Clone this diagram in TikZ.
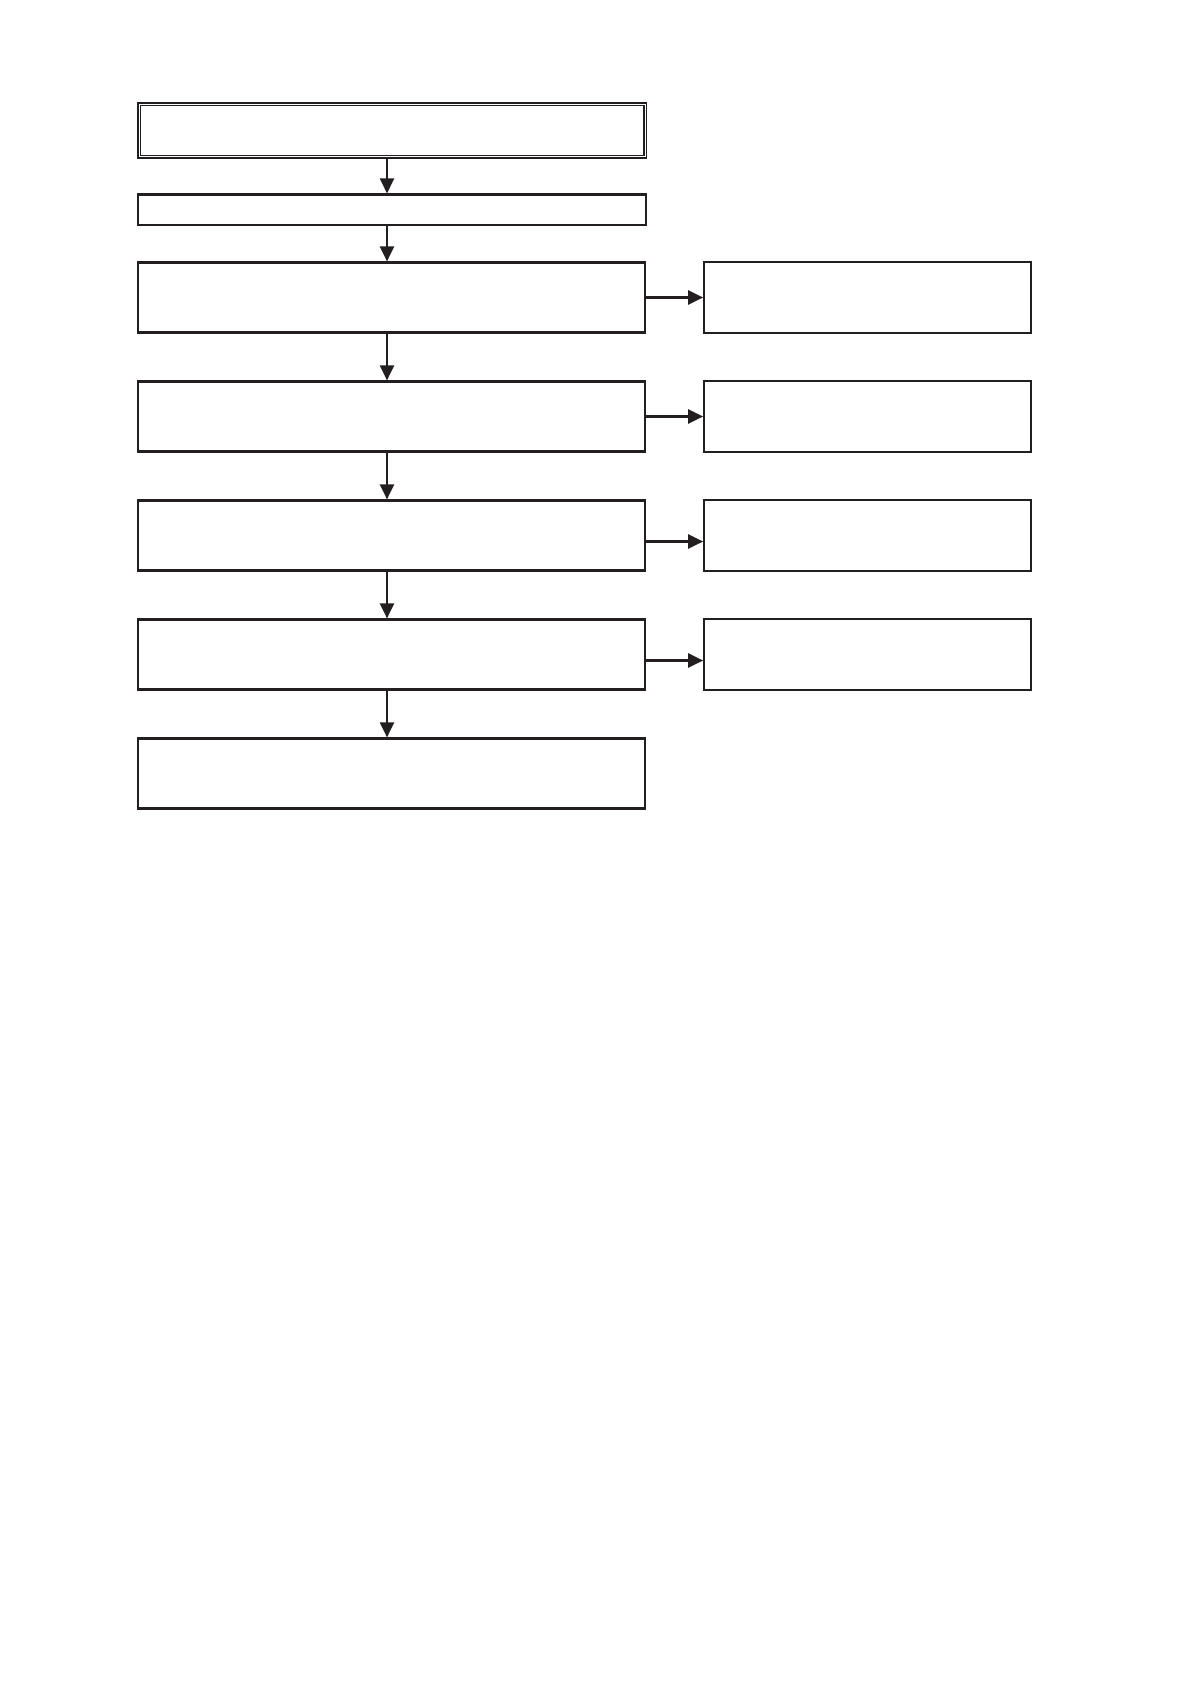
\documentclass[tikz,border=0pt]{standalone}
\usetikzlibrary{arrows.meta}
\definecolor{ink}{HTML}{231F20}
\tikzset{
  box/.style={draw=ink, line width=2.2pt, rectangle, inner sep=0pt},
  mainbox/.style={box, minimum width=507pt, minimum height=70pt},
  sidebox/.style={box, minimum width=326.5pt, minimum height=70.5pt},
  dbox/.style={draw=ink, line width=1.6pt, double=white, double distance=1pt, rectangle, inner sep=0pt, minimum width=506pt, minimum height=52.4pt},
  arr/.style={draw=ink, line width=2.2pt, -{Triangle[length=15pt, width=14pt]}}
}
\begin{document}
\begin{tikzpicture}[x=1pt, y=-1pt]
\useasboundingbox (0,0) rectangle (1191,1684);
\coordinate (ax) at (387,0);
\node[dbox] (t) at (392.3,130.5) {};
\node[box, minimum width=508pt, minimum height=30.7pt] (b2) at (391.8,209.9) {};
\node[mainbox] (b3) at (391.3,297.5) {};
\node[mainbox] (b4) at (391.3,416.5) {};
\node[mainbox] (b5) at (391.3,535.5) {};
\node[mainbox] (b6) at (391.3,654.5) {};
\node[mainbox] (b7) at (391.3,773.5) {};
\node[sidebox] (r3) at (867.5,297.5) {};
\node[sidebox] (r4) at (867.5,416.5) {};
\node[sidebox] (r5) at (867.5,535.5) {};
\node[sidebox] (r6) at (867.5,654.5) {};
\draw[arr] (t.south -| ax) -- (b2.north -| ax);
\draw[arr] (b2.south -| ax) -- (b3.north -| ax);
\draw[arr] (b3.south -| ax) -- (b4.north -| ax);
\draw[arr] (b4.south -| ax) -- (b5.north -| ax);
\draw[arr] (b5.south -| ax) -- (b6.north -| ax);
\draw[arr] (b6.south -| ax) -- (b7.north -| ax);
\draw[arr] (b3.east) -- (r3.west);
\draw[arr] (b4.east) -- (r4.west);
\draw[arr] ([yshift=-6pt]b5.east) -- ([yshift=-6pt]b5.east -| r5.west);
\draw[arr] ([yshift=-6pt]b6.east) -- ([yshift=-6pt]b6.east -| r6.west);
\end{tikzpicture}
\end{document}
